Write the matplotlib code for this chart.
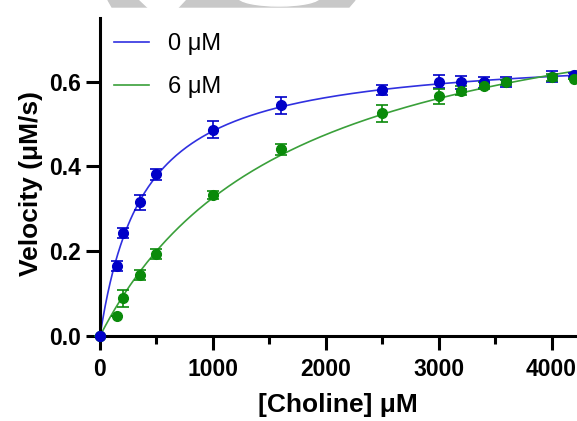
#!/usr/bin/env python3
"""Choline velocity curves at 0 and 6 uM inhibitor, Michaelis-Menten fits."""

import matplotlib

matplotlib.use("Agg")
import matplotlib.pyplot as plt
import numpy as np
from matplotlib.patches import Ellipse, Polygon

plt.rcParams["font.family"] = ["Liberation Sans", "DejaVu Sans"]

# data
choline = [0, 150, 200, 350, 500, 1000, 1600, 2500, 3000, 3200, 3400, 3600, 4000, 4200]
vel_0 = [0.0, 0.165, 0.242, 0.315, 0.381, 0.487, 0.544, 0.581, 0.600, 0.598, 0.598, 0.600, 0.612, 0.616]
err_0 = [0.0, 0.012, 0.012, 0.018, 0.012, 0.020, 0.020, 0.012, 0.015, 0.015, 0.012, 0.012, 0.012, 0.005]
vel_6 = [0.0, 0.047, 0.089, 0.143, 0.193, 0.332, 0.440, 0.525, 0.565, 0.579, 0.590, 0.598, 0.610, 0.607]
err_6 = [0.0, 0.0, 0.020, 0.012, 0.012, 0.010, 0.012, 0.020, 0.018, 0.010, 0.008, 0.006, 0.008, 0.0]

labels = ["0 μM", "6 μM"]
x_ticks = [0, 1000, 2000, 3000, 4000]
y_ticks = [0.0, 0.2, 0.4, 0.6]

W, H = 577, 421


def _fit_mm(s, v):
    """Least-squares Michaelis-Menten fit: grid over Km, closed-form Vmax."""
    s = np.asarray(s, float)
    v = np.asarray(v, float)
    best = None
    for km in np.linspace(50, 4000, 3951):
        f = s / (km + s)
        vmax = (f @ v) / (f @ f)
        sse = np.sum((v - vmax * f) ** 2)
        if best is None or sse < best[0]:
            best = (sse, vmax, km)
    return best[1], best[2]


def _px(pts):
    return [[x / W, 1 - y / H] for x, y in pts]


fig = plt.figure(figsize=(W / 100, H / 100), dpi=100)

# grey watermark fragment along the top edge
wm = "#c8c8c8"
fig.patches.append(Polygon(_px([(108, 0), (355, 0), (349, 7), (112, 7)]),
                           closed=True, transform=fig.transFigure, color=wm, zorder=0))
fig.patches.append(Polygon(_px([(139, -1), (186, -1), (178, 7.5), (148, 7.5)]),
                           closed=True, transform=fig.transFigure, color="white", zorder=0))
fig.patches.append(Ellipse((279 / W, 1 + 3 / H), 82 / W, 18 / H,
                           transform=fig.transFigure, color="white", zorder=0))

ax = fig.add_axes([100 / W, 85 / H, 508 / W, 318 / H])

x_max = 4500
ax.set_xlim(0, x_max)
ax.set_ylim(0, 0.75)

series = [
    (vel_0, err_0, "#0000c8", "#3030e0"),
    (vel_6, err_6, "#0a8a0a", "#3aa03a"),
]
xs = np.linspace(0, x_max, 400)
for (vel, err, mcol, lcol), label in zip(series, labels):
    vmax, km = _fit_mm(choline, vel)
    ax.plot(xs, vmax * xs / (km + xs), color=lcol, lw=1.2, label=label, zorder=2,
            clip_on=False)
    ax.errorbar(choline, vel, yerr=err, fmt="o", color=mcol, ms=7, elinewidth=1.2,
                capsize=4.5, capthick=1.2, zorder=3, clip_on=False)

# blue origin point drawn last so it sits on top
ax.plot([choline[0]], [vel_0[0]], "o", color="#0000c8", ms=7, zorder=4, clip_on=False)

for side in ["top", "right"]:
    ax.spines[side].set_visible(False)
for side in ["left", "bottom"]:
    ax.spines[side].set_linewidth(2.2)

ax.set_xticks(x_ticks)
ax.set_xticks(np.arange(500, x_max, 1000), minor=True)
ax.set_yticks(y_ticks)
ax.set_yticklabels([f"{t:.1f}" for t in y_ticks])
ax.tick_params(which="major", length=10, width=2.2, labelsize=16.5)
ax.tick_params(axis="x", which="major", pad=5.5)
ax.tick_params(which="minor", length=6, width=2.2)
for t in ax.get_xticklabels() + ax.get_yticklabels():
    t.set_fontweight("bold")

ax.set_xlabel("[Choline] μM", fontsize=19, fontweight="bold")
ax.xaxis.set_label_coords(238 / 508, -57 / 318)
ax.set_ylabel("Velocity (μM/s)", fontsize=19, fontweight="bold")
ax.yaxis.set_label_coords(-57 / 508, 153 / 318)

ax.legend(loc="upper left", frameon=False, fontsize=17, handlelength=1.45,
          handletextpad=0.8, borderaxespad=0.0, labelspacing=0.88,
          bbox_to_anchor=(5 / 508, 1 - 6 / 318))

fig.savefig("out.png", dpi=100)
